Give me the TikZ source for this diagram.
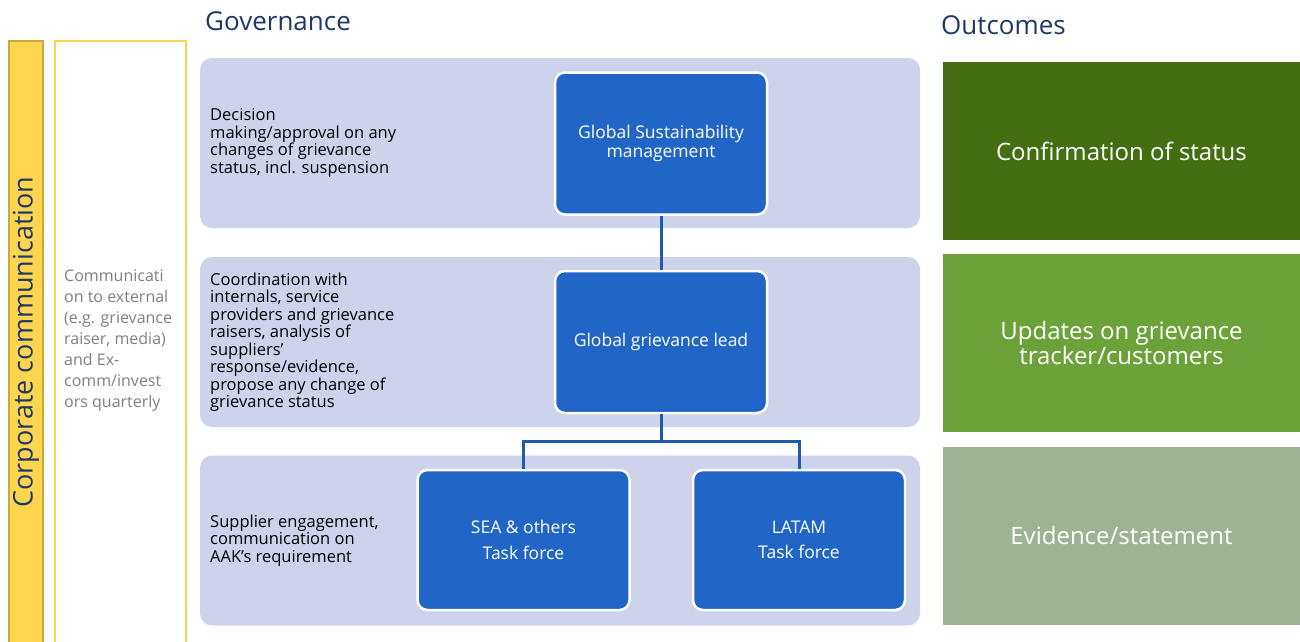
\documentclass[tikz,border=0pt]{standalone}
\usepackage{fontspec}
\setmainfont{Open Sans}
\usetikzlibrary{positioning}

\definecolor{navy}{HTML}{1F3864}
\definecolor{panelbg}{HTML}{CDD3EB}
\definecolor{rolebg}{HTML}{2166C7}
\definecolor{linkcol}{HTML}{1F5AAB}
\definecolor{corpyellow}{HTML}{FFD54F}
\definecolor{corpedge}{HTML}{C8A93A}
\definecolor{notegray}{HTML}{808080}
\definecolor{outA}{HTML}{436E12}
\definecolor{outB}{HTML}{6BA33A}
\definecolor{outC}{HTML}{9EB294}

\tikzset{
  panel/.style={fill=panelbg,rounded corners=12pt,minimum width=720pt,minimum height=170pt,inner sep=0pt},
  role/.style={fill=rolebg,draw=white,line width=2.5pt,rounded corners=10pt,text=white,align=center,
    minimum width=212pt,minimum height=142pt,font=\fontsize{17.5}{19.5}\selectfont},
  taskforce/.style={role,minimum height=140pt,font=\fontsize{17.5}{25.5}\selectfont},
  duty/.style={anchor=west,align=left,text=black,inner sep=0pt,font=\fontsize{16.5}{17.5}\selectfont},
  outcome/.style={text=white,align=center,minimum width=357pt,minimum height=178pt,inner sep=0pt,
    font=\fontsize{24}{25}\selectfont},
  heading/.style={anchor=west,text=navy,inner sep=0pt,font=\fontsize{26}{28}\selectfont},
  link/.style={draw=linkcol,line width=3pt}
}

\begin{document}
\begin{tikzpicture}[x=1pt,y=-1pt]
  \useasboundingbox (0,0) rectangle (1300,641);

  % corporate communication column
  \fill[corpyellow,draw=corpedge,line width=2pt] (9,41) rectangle (43,660);
  \node[rotate=90,text=navy,font=\fontsize{27}{30}\selectfont] (corp) at (26,342) {Corporate communication};
  \draw[corpyellow,line width=2.5pt] (55,41) rectangle (186,660);
  \node[anchor=west,align=left,text=notegray,inner sep=0pt,font=\fontsize{16}{21}\selectfont] (extcomm) at (64,341)
    {Communicati\\on to external\\(e.g. grievance\\raiser, media)\\and Ex-\\comm/invest\\ors quarterly};

  % governance
  \node[heading] (govtitle) at (205,21) {Governance};
  \node[panel] (decide) at (560,143) {};
  \node[panel] (coord) at (560,342) {};
  \node[panel] (engage) at (560,540.5) {};

  \node[duty] (decidetxt) at (210,143)
    {Decision\\making/approval on any\\changes of grievance\\status, incl. suspension};
  \node[duty] (coordtxt) at (210,342)
    {Coordination with\\internals, service\\providers and grievance\\raisers, analysis of\\suppliers'\\response/evidence,\\propose any change of\\grievance status};
  \node[duty] (engagetxt) at (210,540.5)
    {Supplier engagement,\\communication on\\AAK's requirement};

  \node[role] (gsm) at (661,143.5) {Global Sustainability\\management};
  \node[role] (ggl) at (661,342) {Global grievance lead};
  \node[taskforce] (sea) at (523.5,540) {SEA \& others\\Task force};
  \node[taskforce] (latam) at (799,540) {LATAM\\Task force};

  \draw[link] (gsm) -- (ggl);
  \draw[link] (ggl.south) -- ++(0,27) -| (sea.north);
  \draw[link] (ggl.south) -- ++(0,27) -| (latam.north);

  % outcomes
  \node[heading] (outtitle) at (941,25) {Outcomes};
  \node[outcome,fill=outA] (confirm) at (1121.5,151) {Confirmation of status};
  \node[outcome,fill=outB] (updates) at (1121.5,343) {Updates on grievance\\tracker/customers};
  \node[outcome,fill=outC] (evidence) at (1121.5,535.5) {Evidence/statement};
\end{tikzpicture}
\end{document}
